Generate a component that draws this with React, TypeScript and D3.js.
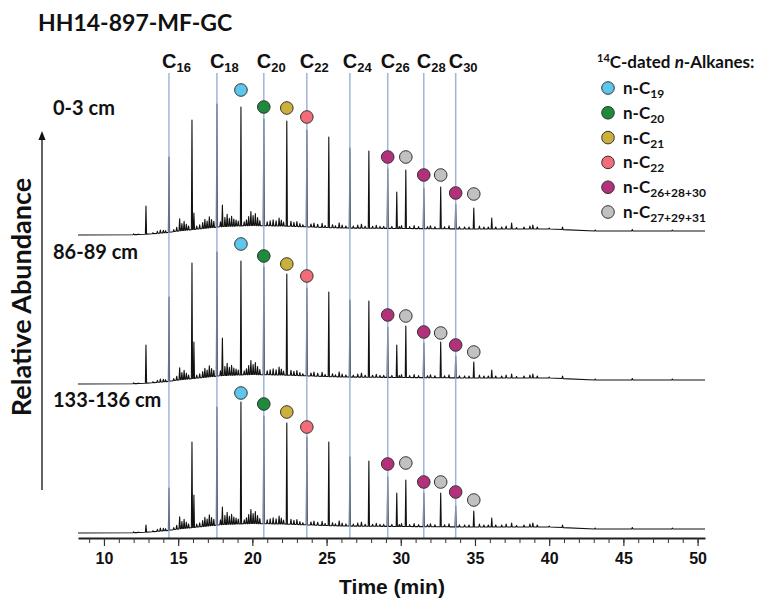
import { useEffect, useRef } from 'react';
import * as d3 from 'd3';

const samples = ['0-3 cm', '86-89 cm', '133-136 cm'];

// n-alkane retention times (min), C15 ... C33
const alkaneTimes = [12.83, 14.38, 15.93, 17.61, 19.23, 20.77, 22.32, 23.67, 25.15, 26.57, 27.85, 29.12, 30.34, 31.55, 32.69, 33.7, 34.92, 36.13, 37.47];

// peak tops per sample (relative abundance, arbitrary units)
const peaks0_3 = [29, 78, 115, 131, 128, 116, 114, 105, 98, 87, 84, 66, 65, 47, 48, 31, 27, 17, 12];
const peaks86_89 = [39, 87, 121, 132, 123, 117, 110, 96, 92, 84, 83, 57, 58, 41, 42, 28, 22, 14, 10];
const peaks133_136 = [8, 45, 91, 126, 131, 117, 110, 96, 91, 76, 72, 56, 53, 40, 40, 27, 22, 15, 10];

// pristane, phytane and the unknown next to C26
const extraTimes = [16.06, 17.98, 29.73];
const extra0_3 = [22, 30, 43];
const extra86_89 = [42, 46, 39];
const extra133_136 = [38, 26, 40];

// hump of the unresolved mixture under the peaks
const humpTimes = [8.25, 11, 12.5, 13.5, 14.3, 15, 16, 17, 18, 20, 22, 24, 26, 30, 35, 40, 41.5, 42.3, 50.5];
const humpLevels = [0, 0, 0.5, 1.5, 2.5, 4, 5.5, 7, 8.5, 9.5, 9, 8, 7, 6.5, 6, 6, 5, 4, 4];

// small peaks of the baseline (height above hump)
const minorTimes = [12.0, 12.3, 13.3, 13.6, 13.8, 14.0, 14.15, 14.7, 14.9, 15.1, 15.25, 15.4, 15.55, 15.7,
  16.25, 16.45, 16.65, 16.8, 16.95, 17.1, 17.25, 17.4, 17.85, 18.15, 18.3, 18.45, 18.6, 18.75, 18.9, 19.05,
  19.45, 19.6, 19.75, 19.9, 20.05, 20.2, 20.35, 20.5, 21.0, 21.2, 21.4, 21.6, 21.8, 21.95, 22.1,
  22.6, 22.8, 23.0, 23.2, 23.4, 23.95, 24.15, 24.4, 24.7, 24.9, 25.4, 25.6, 25.85, 26.05, 26.3,
  26.8, 27.1, 27.35, 27.6, 28.1, 28.35, 28.6, 28.85, 29.4, 29.9, 30.05, 30.6, 30.9, 31.2, 31.8, 32.0, 32.3, 32.95, 33.25,
  33.95, 34.3, 34.6, 35.3, 35.6, 35.9, 36.4, 36.8, 37.1, 37.8, 38.3, 38.7, 38.9, 39.2, 40.0, 40.9, 43.1, 45.6, 48.3];
const minorHeights = [0.8, 0.5, 1, 2, 3, 2.5, 2, 2, 4, 12, 7, 9, 6, 4,
  3, 4, 6, 9, 7, 11, 8, 6, 5, 9, 12, 8, 10, 7, 6, 5,
  4, 6, 9, 14, 10, 12, 8, 5, 4, 5, 6, 5, 8, 6, 4,
  5, 4, 5, 3, 2, 3, 4, 3, 4, 2, 3, 2, 5, 3, 2,
  2, 3, 4, 2, 2, 3, 2, 2, 2, 2, 3, 2, 3, 2, 2, 3, 2, 2, 3,
  2, 2, 2, 3, 2, 2, 2, 2, 3, 1.5, 2, 3, 4, 2, 1, 2.5, 1, 1.5, 1];

const markedCarbons = ['16', '18', '20', '22', '24', '26', '28', '30'];
const markedTimes = [14.38, 17.61, 20.77, 23.67, 26.57, 29.12, 31.55, 33.7];

// 14C-dated compounds
const datedNames = ['19', '20', '21', '22', '26+28+30', '27+29+31'];
const datedColors = ['#5cc6ec', '#1e8a3b', '#cbb03b', '#f26d79', '#b3317b', '#c1c1c1'];
const dotTimes = [19.23, 20.77, 22.32, 23.67, 29.12, 30.34, 31.55, 32.69, 33.7, 34.92];
const dotGroup = [0, 1, 2, 3, 4, 5, 4, 5, 4, 5];
const dots0_3 = [145, 128, 127, 118, 78, 78, 60, 60, 42, 41];
const dots86_89 = [140, 128, 120, 108, 69, 68, 52, 51, 39, 32];
const dots133_136 = [140, 129, 121, 106, 69, 70, 51, 51, 41, 33];

const xTicks = [10, 15, 20, 25, 30, 35, 40, 45, 50];

const calibri = 'Lato, "Open Sans", sans-serif';
const arial = '"Liberation Sans", Arial, sans-serif';

export default function App() {
  const ref = useRef<SVGSVGElement>(null);

  useEffect(() => {
    const width = 772, height = 598;
    const svg = d3.select(ref.current);
    svg.selectAll('*').remove();
    svg.attr('width', width).attr('height', height);

    const x = d3.scaleLinear().domain([8.25, 50.5]).range([78, 705]);
    const axisY = 538;
    const hump = d3.scaleLinear().domain(humpTimes).range(humpLevels).clamp(true);

    const traces = [
      { label: samples[0], peaks: peaks0_3, extra: extra0_3, dots: dots0_3, zero: 235, labelY: 115 },
      { label: samples[1], peaks: peaks86_89, extra: extra86_89, dots: dots86_89, zero: 384, labelY: 259 },
      { label: samples[2], peaks: peaks133_136, extra: extra133_136, dots: dots133_136, zero: 533, labelY: 407 },
    ];

    // title
    svg.append('text').attr('x', 38).attr('y', 31).attr('font-family', calibri)
      .attr('font-weight', 700).attr('font-size', 23).attr('fill', '#111').text('HH14-897-MF-GC');

    // chromatograms
    traces.forEach(tr => {
      const y = d3.scaleLinear().domain([0, 150]).range([tr.zero, tr.zero - 150]);
      const pk: { t: number; v: number; w: number }[] = [];
      alkaneTimes.forEach((t, i) => pk.push({ t, v: tr.peaks[i], w: 0.04 }));
      extraTimes.forEach((t, i) => pk.push({ t, v: tr.extra[i], w: 0.04 }));
      minorTimes.forEach((t, i) => pk.push({ t, v: hump(t) + minorHeights[i], w: 0.045 }));
      pk.sort((a, b) => a.t - b.t);
      const pts: [number, number][] = [[8.25, hump(8.25)]];
      pk.forEach(p => {
        pts.push([p.t - p.w, hump(p.t - p.w)], [p.t, p.v], [p.t + p.w, hump(p.t + p.w)]);
      });
      pts.push([50.5, hump(50.5)]);
      const line = d3.line<[number, number]>().x(d => x(d[0])).y(d => y(d[1]));
      svg.append('path').attr('d', line(pts)).attr('fill', 'none')
        .attr('stroke', '#111').attr('stroke-width', 1.1).attr('stroke-linejoin', 'round');

      svg.append('text').attr('x', 53).attr('y', tr.labelY).attr('font-family', calibri)
        .attr('font-weight', 700).attr('font-size', 20).attr('fill', '#111').text(tr.label);
    });

    // carbon number guides
    svg.append('g').selectAll('line').data(markedTimes).join('line')
      .attr('x1', d => x(d)).attr('x2', d => x(d)).attr('y1', 73).attr('y2', axisY)
      .attr('stroke', '#8eaad4').attr('stroke-width', 1.5).attr('opacity', 0.85);

    const cl = svg.append('g').selectAll('text').data(markedCarbons).join('text')
      .attr('x', (d, i) => x(markedTimes[i]) - 7).attr('y', 68)
      .attr('font-family', arial).attr('font-weight', 700).attr('font-size', 20).attr('fill', '#111');
    cl.append('tspan').text('C');
    cl.append('tspan').attr('dy', 4).attr('font-size', 13).text(d => d);

    // dated compound markers
    traces.forEach(tr => {
      const y = d3.scaleLinear().domain([0, 150]).range([tr.zero, tr.zero - 150]);
      svg.append('g').selectAll('circle').data(dotTimes).join('circle')
        .attr('cx', d => x(d)).attr('cy', (d, i) => y(tr.dots[i])).attr('r', 6.3)
        .attr('fill', (d, i) => datedColors[dotGroup[i]]).attr('stroke', '#333').attr('stroke-width', 1);
    });

    // x axis
    const minor = svg.append('g').attr('transform', `translate(0,${axisY})`)
      .call(d3.axisBottom(x).tickValues(d3.range(9, 51)).tickSize(5).tickSizeOuter(0).tickFormat(() => ''));
    minor.select('.domain').attr('stroke', '#222').attr('stroke-width', 2);
    minor.selectAll('.tick line').attr('stroke', '#333').attr('stroke-width', 1);
    const major = svg.append('g').attr('transform', `translate(0,${axisY})`)
      .call(d3.axisBottom(x).tickValues(xTicks).tickSize(8).tickSizeOuter(0).tickPadding(7));
    major.select('.domain').remove();
    major.selectAll('.tick line').attr('stroke', '#333').attr('stroke-width', 1.2);
    major.selectAll('.tick text').attr('font-family', arial).attr('font-weight', 700)
      .attr('font-size', 16).attr('fill', '#111');

    svg.append('text').attr('x', 392).attr('y', 594).attr('text-anchor', 'middle')
      .attr('font-family', arial).attr('font-weight', 700).attr('font-size', 21).attr('fill', '#111')
      .text('Time (min)');

    // y axis arrow and label
    svg.append('line').attr('x1', 42).attr('x2', 42).attr('y1', 490).attr('y2', 138)
      .attr('stroke', '#111').attr('stroke-width', 1.3);
    svg.append('path').attr('d', 'M42,131 L38.5,140 L45.5,140 Z').attr('fill', '#111');
    svg.append('text').attr('transform', 'translate(31,297) rotate(-90)').attr('text-anchor', 'middle')
      .attr('font-family', calibri).attr('font-weight', 700).attr('font-size', 27).attr('fill', '#111')
      .text('Relative Abundance');

    // legend
    const lt = svg.append('text').attr('x', 597).attr('y', 68).attr('font-family', calibri)
      .attr('font-weight', 700).attr('font-size', 17).attr('fill', '#111');
    lt.append('tspan').attr('font-size', 11).attr('dy', -6).text('14');
    lt.append('tspan').attr('dy', 6).text('C-dated ');
    lt.append('tspan').attr('font-style', 'italic').text('n');
    lt.append('tspan').text('-Alkanes:');

    const items = svg.append('g').selectAll('g').data(datedNames).join('g')
      .attr('transform', (d, i) => `translate(0,${88 + i * 24.8})`);
    items.append('circle').attr('cx', 608).attr('cy', 0).attr('r', 6.3)
      .attr('fill', (d, i) => datedColors[i]).attr('stroke', '#333').attr('stroke-width', 1);
    const it = items.append('text').attr('x', 623).attr('y', 6).attr('font-family', calibri)
      .attr('font-weight', 700).attr('font-size', 17).attr('fill', '#111');
    it.append('tspan').text('n-C');
    it.append('tspan').attr('dy', 4).attr('font-size', 12).text(d => d);
  }, []);

  return (
    <svg ref={ref} style={{ position: 'absolute', left: 0, top: 0 }}></svg>
  );
}
